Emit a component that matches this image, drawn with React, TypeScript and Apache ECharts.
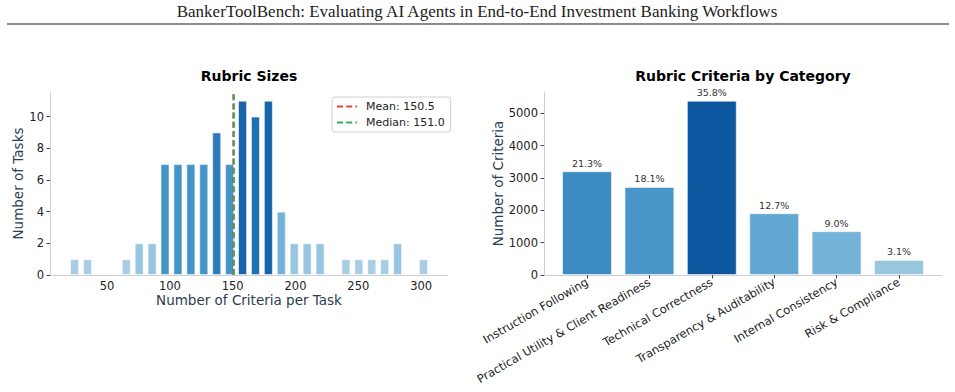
import { useEffect, useRef } from "react";
import * as echarts from "echarts";

const PAGE_TITLE =
  "BankerToolBench: Evaluating AI Agents in End-to-End Investment Banking Workflows";

// Rubric size histogram: 28 equal-width bins between the smallest and largest rubric
const rubricMin = 19;
const rubricMax = 307;
const binCounts = [
  1, 1, 0, 0, 1, 2, 2, 7, 7, 7, 7, 9, 7, 11, 10, 11, 4, 2, 2, 2, 0, 1, 1, 1, 1, 2, 0, 1,
];
const meanCriteria = 150.5;
const medianCriteria = 151.0;
const histXTicks = [50, 100, 150, 200, 250, 300];
const histYTicks = [0, 2, 4, 6, 8, 10];

// Criteria totals per rubric category
const categories = [
  "Instruction Following",
  "Practical Utility & Client Readiness",
  "Technical Correctness",
  "Transparency & Auditability",
  "Internal Consistency",
  "Risk & Compliance",
];
const criteriaCounts = [3206, 2724, 5388, 1911, 1354, 467];
const categoryYTicks = [0, 1000, 2000, 3000, 4000, 5000];

const FONT = "DejaVu Sans";
const AXIS_NAME_COLOR = "#2c3e50";
const SPINE = "#cfcfcf";

// matplotlib "Blues" colormap stops
const BLUES = [
  "#f7fbff", "#deebf7", "#c6dbef", "#9ecae1", "#6baed6",
  "#4292c6", "#2171b5", "#08519c", "#08306b",
];

function hexToRgb(h: string): number[] {
  const n = parseInt(h.slice(1), 16);
  return [(n >> 16) & 255, (n >> 8) & 255, n & 255];
}

function blues(t: number): string {
  const x = Math.min(Math.max(t, 0), 1) * (BLUES.length - 1);
  const i = Math.min(Math.floor(x), BLUES.length - 2);
  const f = x - i;
  const a = hexToRgb(BLUES[i]);
  const b = hexToRgb(BLUES[i + 1]);
  const c = a.map((v, k) => Math.round(v + (b[k] - v) * f));
  return `rgb(${c[0]},${c[1]},${c[2]})`;
}

export default function App() {
  const ref = useRef<HTMLDivElement>(null);

  useEffect(() => {
    if (!ref.current) return;
    const chart = echarts.init(ref.current, null, { renderer: "svg" });

    const plotW = 398;
    const plotH = 183;
    const top = 92;
    const leftA = 50;
    const leftB = 544;

    // histogram geometry, with 5% axis margins
    const binW = (rubricMax - rubricMin) / binCounts.length;
    const histSpan = rubricMax - rubricMin;
    const histXMin = rubricMin - histSpan * 0.05;
    const histXMax = rubricMax + histSpan * 0.05;
    const maxCount = Math.max(...binCounts);
    const histYMax = maxCount * 1.05;
    const histBarPx = (plotW / (histXMax - histXMin)) * binW * 0.7;

    const histData = binCounts
      .map((c, i) => ({ c, x: rubricMin + binW * (i + 0.5) }))
      .filter((d) => d.c > 0)
      .map((d) => ({
        value: [d.x, d.c],
        itemStyle: { color: blues(0.3 + (0.5 * d.c) / maxCount) },
      }));

    // category bars on a numeric axis so the side margins stay at 5%
    const catXMin = -0.4 - 0.05 * (categories.length - 0.2);
    const catXMax = categories.length - 0.6 + 0.05 * (categories.length - 0.2);
    const unitPx = plotW / (catXMax - catXMin);
    const maxCrit = Math.max(...criteriaCounts);
    const total = criteriaCounts.reduce((s, v) => s + v, 0);
    const catYMax = maxCrit * 1.05;
    const catData = criteriaCounts.map((v, i) => ({
      value: [i, v],
      itemStyle: { color: blues(0.35 + (0.5 * v) / maxCrit) },
    }));

    const tickLabel = { fontFamily: FONT, fontSize: 11.5, color: "#222" };
    const plain = (v: number) => String(Math.round(v));

    chart.setOption({
      animation: false,
      backgroundColor: "#ffffff",
      textStyle: { fontFamily: FONT },
      title: [
        {
          text: PAGE_TITLE,
          left: 477,
          top: 3,
          textAlign: "center",
          padding: 0,
          textStyle: {
            fontFamily: "Liberation Serif",
            fontSize: 17,
            fontWeight: "normal",
            color: "#222",
          },
        },
        {
          text: "Rubric Sizes",
          left: leftA + plotW / 2,
          top: 69,
          textAlign: "center",
          padding: 0,
          textStyle: { fontFamily: FONT, fontSize: 14, fontWeight: "bold", color: "#000" },
        },
        {
          text: "Rubric Criteria by Category",
          left: leftB + plotW / 2,
          top: 69,
          textAlign: "center",
          padding: 0,
          textStyle: { fontFamily: FONT, fontSize: 14, fontWeight: "bold", color: "#000" },
        },
      ],
      graphic: [
        {
          type: "rect",
          shape: { x: 7, y: 23, width: 942, height: 2 },
          style: { fill: "#8a8a8a" },
          silent: true,
        },
      ],
      legend: {
        data: [`Mean: ${meanCriteria.toFixed(1)}`, `Median: ${medianCriteria.toFixed(1)}`],
        orient: "vertical",
        left: 332,
        top: 97,
        padding: [4, 6, 4, 4],
        itemGap: 5,
        itemWidth: 20,
        itemHeight: 10,
        itemStyle: { opacity: 0 },
        borderColor: "#d0d0d0",
        borderWidth: 1,
        borderRadius: 3,
        textStyle: { fontFamily: FONT, fontSize: 11, color: "#222", padding: [0, 0, 0, 4] },
      },
      grid: [
        { left: leftA, top, width: plotW, height: plotH },
        { left: leftB, top, width: plotW, height: plotH },
      ],
      xAxis: [
        {
          type: "value",
          gridIndex: 0,
          min: histXMin,
          max: histXMax,
          name: "Number of Criteria per Task",
          nameLocation: "middle",
          nameGap: 18,
          nameTextStyle: {
            fontFamily: FONT,
            fontSize: 13.5,
            color: AXIS_NAME_COLOR,
            verticalAlign: "top",
          },
          axisLine: { onZero: false, lineStyle: { color: SPINE, width: 1 } },
          axisTick: { show: false, customValues: histXTicks },
          axisLabel: { ...tickLabel, margin: 5, customValues: histXTicks, formatter: plain },
          splitLine: { show: false },
        },
        {
          type: "value",
          gridIndex: 1,
          min: catXMin,
          max: catXMax,
          axisLine: { onZero: false, lineStyle: { color: SPINE, width: 1 } },
          axisTick: {
            show: true,
            length: 3.5,
            lineStyle: { color: "#444" },
            customValues: categories.map((_, i) => i),
          },
          axisLabel: {
            ...tickLabel,
            rotate: 30,
            margin: 6,
            customValues: categories.map((_, i) => i),
            formatter: (v: number) => categories[Math.round(v)] ?? "",
          },
          splitLine: { show: false },
        },
      ],
      yAxis: [
        {
          type: "value",
          gridIndex: 0,
          min: 0,
          max: histYMax,
          name: "Number of Tasks",
          nameLocation: "middle",
          nameGap: 24,
          nameTextStyle: { fontFamily: FONT, fontSize: 13.5, color: AXIS_NAME_COLOR },
          axisLine: { show: true, onZero: false, lineStyle: { color: SPINE, width: 1 } },
          axisTick: {
            show: true,
            length: 3.5,
            lineStyle: { color: "#444" },
            customValues: histYTicks,
          },
          axisLabel: { ...tickLabel, margin: 6, customValues: histYTicks, formatter: plain },
          splitLine: { show: false },
        },
        {
          type: "value",
          gridIndex: 1,
          min: 0,
          max: catYMax,
          name: "Number of Criteria",
          nameLocation: "middle",
          nameGap: 38,
          nameTextStyle: { fontFamily: FONT, fontSize: 13.5, color: AXIS_NAME_COLOR },
          axisLine: { show: true, onZero: false, lineStyle: { color: SPINE, width: 1 } },
          axisTick: {
            show: true,
            length: 3.5,
            lineStyle: { color: "#444" },
            customValues: categoryYTicks,
          },
          axisLabel: { ...tickLabel, margin: 6, customValues: categoryYTicks, formatter: plain },
          splitLine: { show: false },
        },
      ],
      series: [
        {
          type: "bar",
          xAxisIndex: 0,
          yAxisIndex: 0,
          barWidth: histBarPx,
          data: histData,
          itemStyle: { borderColor: "rgba(255,255,255,0.55)", borderWidth: 1 },
        },
        {
          name: `Mean: ${meanCriteria.toFixed(1)}`,
          type: "line",
          xAxisIndex: 0,
          yAxisIndex: 0,
          symbol: "none",
          data: [
            [meanCriteria, 0],
            [meanCriteria, histYMax],
          ],
          lineStyle: { color: "#e0473c", width: 2, type: [6, 3.2] },
          itemStyle: { color: "#e0473c" },
        },
        {
          name: `Median: ${medianCriteria.toFixed(1)}`,
          type: "line",
          xAxisIndex: 0,
          yAxisIndex: 0,
          symbol: "none",
          data: [
            [medianCriteria, 0],
            [medianCriteria, histYMax],
          ],
          lineStyle: { color: "#34ad5e", width: 2, type: [6, 3.2] },
          itemStyle: { color: "#34ad5e" },
        },
        {
          type: "bar",
          xAxisIndex: 1,
          yAxisIndex: 1,
          barWidth: unitPx * 0.8,
          data: catData,
          itemStyle: { borderColor: "rgba(255,255,255,0.55)", borderWidth: 1 },
          label: {
            show: true,
            position: "top",
            distance: 3,
            fontFamily: FONT,
            fontSize: 9.5,
            color: "#333",
            formatter: (p: any) => `${((p.value[1] / total) * 100).toFixed(1)}%`,
          },
        },
      ],
    });

    return () => chart.dispose();
  }, []);

  return (
    <div
      ref={ref}
      style={{ position: "fixed", left: 0, top: 0, width: 955, height: 392, background: "#fff" }}
    />
  );
}
